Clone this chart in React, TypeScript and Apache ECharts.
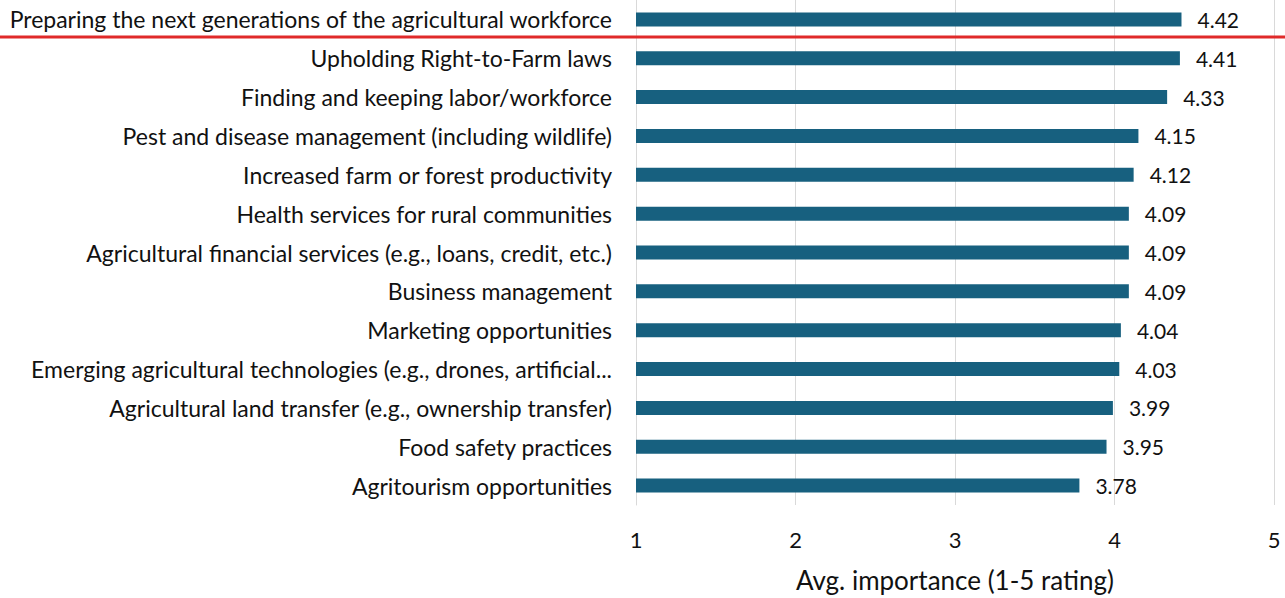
import React, { useEffect, useRef } from "react";
import * as echarts from "echarts";

const categories = [
  "Preparing the next generations of the agricultural workforce",
  "Upholding Right-to-Farm laws",
  "Finding and keeping labor/workforce",
  "Pest and disease management (including wildlife)",
  "Increased farm or forest productivity",
  "Health services for rural communities",
  "Agricultural financial services (e.g., loans, credit, etc.)",
  "Business management",
  "Marketing opportunities",
  "Emerging agricultural technologies (e.g., drones, artificial...",
  "Agricultural land transfer (e.g., ownership transfer)",
  "Food safety practices",
  "Agritourism opportunities",
];
const values = [4.42, 4.41, 4.33, 4.15, 4.12, 4.09, 4.09, 4.09, 4.04, 4.03, 3.99, 3.95, 3.78];
const xTicks = [1, 2, 3, 4, 5];
const axisTitle = "Avg. importance (1-5 rating)";

const FONT = "Lato";

export default function App() {
  const ref = useRef<HTMLDivElement>(null);
  useEffect(() => {
    if (!ref.current) return;
    const chart = echarts.init(ref.current, undefined, { renderer: "svg" });
    chart.setOption({
      animation: false,
      backgroundColor: "#ffffff",
      grid: { left: 636, right: 11, top: -2.5, bottom: 90.5, containLabel: false },
      xAxis: {
        type: "value",
        min: xTicks[0],
        max: xTicks[xTicks.length - 1],
        interval: 1,
        axisLine: { show: false },
        axisTick: { show: false },
        splitLine: { show: true, lineStyle: { color: "#d9d9d9", width: 1 } },
        axisLabel: { color: "#111", fontSize: 22, fontFamily: FONT, margin: 23 },
        name: axisTitle,
        nameLocation: "middle",
        nameGap: 62,
        nameTextStyle: { color: "#111", fontSize: 26, fontFamily: FONT },
      },
      yAxis: {
        type: "category",
        data: categories,
        inverse: true,
        axisLine: { show: true, lineStyle: { color: "#d9d9d9" } },
        axisTick: { show: false },
        axisLabel: { color: "#111", fontSize: 23, fontFamily: FONT, margin: 24 },
      },
      series: [
        {
          type: "bar",
          data: values,
          barWidth: 14,
          itemStyle: { color: "#17607f" },
          label: {
            show: true,
            position: "right",
            distance: 16,
            color: "#111",
            fontSize: 21,
            fontFamily: FONT,
            formatter: (p: any) => p.value.toFixed(2),
          },
        },
      ],
      graphic: [
        {
          type: "line",
          shape: { x1: 0, y1: 37, x2: 1285, y2: 37 },
          style: { stroke: "#e02a2a", lineWidth: 3 },
          z: 100,
        },
      ],
    });
    return () => chart.dispose();
  }, []);
  return (
    <div
      ref={ref}
      style={{ position: "absolute", left: 0, top: 0, width: 1285, height: 598 }}
    />
  );
}
